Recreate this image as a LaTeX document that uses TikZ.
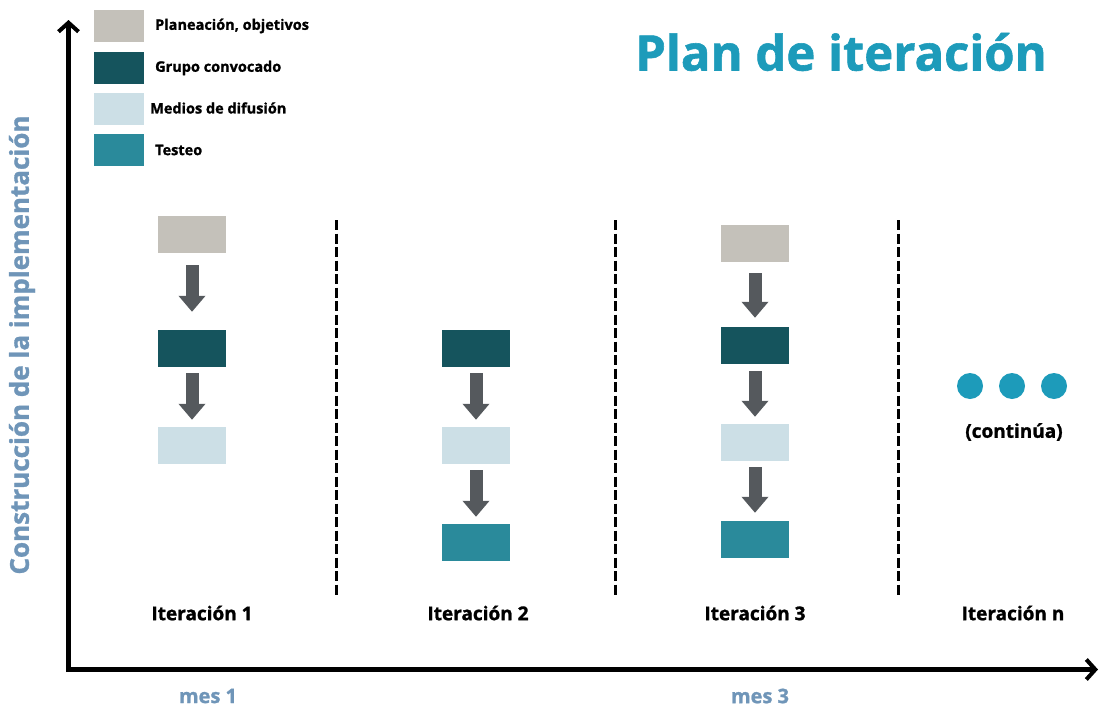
\documentclass[tikz,border=0pt]{standalone}
\usepackage{fontspec}
\setmainfont{Open Sans}[BoldFeatures={FakeBold=1.2}]
\usetikzlibrary{arrows.meta}
\definecolor{cgray}{HTML}{C4C1BA}
\definecolor{cdark}{HTML}{15545D}
\definecolor{clight}{HTML}{CCDFE6}
\definecolor{cteal}{HTML}{2A8A9B}
\definecolor{ctitle}{HTML}{1D9BBA}
\definecolor{caxis}{HTML}{6F95B8}
\definecolor{carrow}{HTML}{55595D}
\tikzset{
  box/.style={minimum width=68pt,minimum height=37pt,inner sep=0pt,draw=none},
  legbox/.style={minimum width=50pt,minimum height=32pt,inner sep=0pt,draw=none},
  legtext/.style={anchor=west,font=\bfseries\fontsize{14.5}{16}\selectfont,inner sep=0pt},
  flow/.style={draw=carrow,line width=13pt,-{Triangle[width=26pt,length=16pt]}},
  axisline/.style={line width=5pt,-{Straight Barb[length=9pt,width=20pt,line width=4pt]}},
  sep/.style={line width=3pt,dash pattern=on 10pt off 3.5pt},
  itlabel/.style={font=\bfseries\fontsize{19}{22}\selectfont,inner sep=0pt},
  meslabel/.style={font=\bfseries\fontsize{20}{22}\selectfont,text=caxis,inner sep=0pt},
  dot/.style={circle,fill=ctitle,minimum size=26pt,inner sep=0pt}
}
\begin{document}
\begin{tikzpicture}[x=1pt,y=-1pt]
\useasboundingbox (0,0) rectangle (1101,707);
% axes
\coordinate (o) at (68.5,669.5);
\coordinate (ytop) at (68.5,20);
\coordinate (xend) at (1098,669.5);
\draw[axisline] ([yshift=-2.5pt]o) -- (ytop);
\draw[axisline] ([xshift=-2.5pt]o) -- (xend);
% title
\node[font=\bfseries\fontsize{49}{54}\selectfont,text=ctitle,inner sep=0pt] (title) at (841,52) {Plan de iteración};
% legend
\node[legbox,fill=cgray]  (l1) at (119,26) {};
\node[legbox,fill=cdark]  (l2) at (119,68) {};
\node[legbox,fill=clight] (l3) at (119,109) {};
\node[legbox,fill=cteal]  (l4) at (119,150) {};
\node[legtext] (t1) at (155,26) {Planeación, objetivos};
\node[legtext] (t2) at (155,68) {Grupo convocado};
\node[legtext] (t3) at (150,108) {Medios de difusión};
\node[legtext] (t4) at (155,150) {Testeo};
% y label
\node[rotate=90,font=\bfseries\fontsize{26}{30}\selectfont,text=caxis,inner sep=0pt] (ylab) at (22,345) {Construcción de la implementación};
% column 1
\node[box,fill=cgray]  (a1) at (192,234.5) {};
\node[box,fill=cdark]  (a2) at (192,348.5) {};
\node[box,fill=clight] (a3) at (192,445.5) {};
\draw[flow] ([yshift=-12pt]a1.south) -- ([yshift=18pt]a2.north);
\draw[flow] ([yshift=-6pt]a2.south) -- ([yshift=7pt]a3.north);
% column 2
\node[box,fill=cdark]  (b2) at (476,348.5) {};
\node[box,fill=clight] (b3) at (476,445.5) {};
\node[box,fill=cteal]  (b4) at (476,542.5) {};
\draw[flow] ([yshift=-6pt]b2.south) -- ([yshift=7pt]b3.north);
\draw[flow] ([yshift=-6pt]b3.south) -- ([yshift=7pt]b4.north);
% column 3
\node[box,fill=cgray]  (c1) at (755,243.5) {};
\node[box,fill=cdark]  (c2) at (755,345.5) {};
\node[box,fill=clight] (c3) at (755,442.5) {};
\node[box,fill=cteal]  (c4) at (755,539.5) {};
\draw[flow] ([yshift=-11pt]c1.south) -- ([yshift=9pt]c2.north);
\draw[flow] ([yshift=-7pt]c2.south) -- ([yshift=7pt]c3.north);
\draw[flow] ([yshift=-6pt]c3.south) -- ([yshift=8pt]c4.north);
% separators
\coordinate (s1t) at (336,220); \coordinate (s1b) at (336,595);
\coordinate (s2t) at (615,220); \coordinate (s2b) at (615,595);
\coordinate (s3t) at (898,220); \coordinate (s3b) at (898,595);
\draw[sep] (s1t) -- (s1b);
\draw[sep] (s2t) -- (s2b);
\draw[sep] (s3t) -- (s3b);
% dots
\node[dot] (d1) at (970,386) {};
\node[dot] (d2) at (1012,386) {};
\node[dot] (d3) at (1054,386) {};
\node[font=\bfseries\fontsize{19}{22}\selectfont,inner sep=0pt] (cont) at (1014,432) {(continúa)};
% iteration labels
\node[itlabel] (i1) at (202,613) {Iteración 1};
\node[itlabel] (i2) at (478,613) {Iteración 2};
\node[itlabel] (i3) at (755,613) {Iteración 3};
\node[itlabel] (i4) at (1013,613) {Iteración n};
% months
\node[meslabel] (m1) at (208,696) {mes 1};
\node[meslabel] (m3) at (760,696) {mes 3};
\end{tikzpicture}
\end{document}
